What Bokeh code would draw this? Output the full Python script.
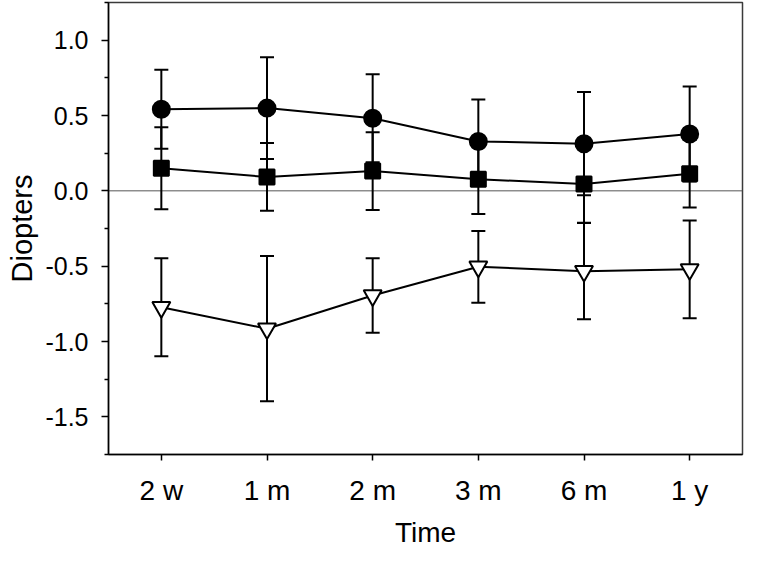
from bokeh.plotting import figure
from bokeh.models import (ColumnDataSource, Whisker, TeeHead, Span, FixedTicker,
                          PrintfTickFormatter, FactorRange, Range1d)
from bokeh.embed import file_html
from bokeh.resources import INLINE

# ---- data ----
times = ["2 w", "1 m", "2 m", "3 m", "6 m", "1 y"]

circle_mean = [0.542, 0.549, 0.482, 0.328, 0.313, 0.377]
circle_sd = [0.262, 0.338, 0.292, 0.278, 0.343, 0.315]

square_mean = [0.150, 0.092, 0.131, 0.077, 0.045, 0.114]
square_sd = [0.272, 0.225, 0.258, 0.231, 0.257, 0.225]

tri_mean = [-0.773, -0.915, -0.695, -0.504, -0.533, -0.521]
tri_sd = [0.325, 0.482, 0.247, 0.238, 0.320, 0.324]

y_ticks = [-1.5, -1.0, -0.5, 0.0, 0.5, 1.0]
y_minor = [-1.75, -1.25, -0.75, -0.25, 0.25, 0.75, 1.25]

FONT = "Liberation Sans"

p = figure(width=744, height=550, x_range=FactorRange(factors=times),
           y_range=Range1d(-1.75, 1.25), output_backend="svg",
           toolbar_location=None, min_border_left=108, min_border_right=2,
           min_border_top=2, min_border_bottom=92)

p.xgrid.visible = False
p.ygrid.visible = False
p.outline_line_color = "#3a3a3a"
p.outline_line_width = 1.5
p.background_fill_color = "white"
p.border_fill_color = "white"

zero = Span(location=0, dimension="width", line_color="#555555", line_width=1,
            level="underlay")
p.add_layout(zero)


def series(mean, sd, marker, size, fill):
    src = ColumnDataSource(dict(
        x=times, y=mean,
        upper=[m + s for m, s in zip(mean, sd)],
        lower=[m - s for m, s in zip(mean, sd)]))
    w = Whisker(base="x", upper="upper", lower="lower", source=src,
                dimension="height", line_color="black", line_width=2,
                level="underlay",
                upper_head=TeeHead(size=14, line_width=2, line_color="black"),
                lower_head=TeeHead(size=14, line_width=2, line_color="black"))
    p.add_layout(w)
    p.line("x", "y", source=src, line_color="black", line_width=2)
    p.scatter("x", "y", source=src, marker=marker, size=size,
              fill_color=fill, line_color="black", line_width=2)


series(circle_mean, circle_sd, "circle", 17, "black")
series(square_mean, square_sd, "square", 15, "black")
series(tri_mean, tri_sd, "inverted_triangle", 18, "white")

# axes
p.yaxis.ticker = FixedTicker(ticks=y_ticks, minor_ticks=y_minor)
p.yaxis.formatter = PrintfTickFormatter(format="%.1f")
p.yaxis.axis_label = "Diopters"
p.xaxis.axis_label = "Time"

for ax in (p.xaxis[0], p.yaxis[0]):
    ax.axis_line_color = "black"
    ax.axis_line_width = 1.5
    ax.major_tick_line_color = "black"
    ax.major_tick_line_width = 1.5
    ax.minor_tick_line_color = "black"
    ax.minor_tick_line_width = 1.5
    ax.major_tick_in = 0
    ax.minor_tick_in = 0
    ax.major_label_text_font = FONT
    ax.major_label_text_color = "black"
    ax.axis_label_text_font = FONT
    ax.axis_label_text_font_style = "normal"
    ax.axis_label_text_color = "black"

p.yaxis.major_label_text_font_size = "25px"
p.xaxis.major_label_text_font_size = "28px"
p.yaxis.axis_label_text_font_size = "29px"
p.xaxis.axis_label_text_font_size = "28px"
p.yaxis.major_tick_out = 7
p.yaxis.minor_tick_out = 4
p.yaxis.major_label_standoff = 13
p.yaxis.axis_label_standoff = 4
p.xaxis.major_tick_out = 6
p.xaxis.minor_tick_out = 0
p.xaxis.major_label_standoff = 14
p.xaxis.axis_label_standoff = 8

open("out.html", "w").write(file_html(p, INLINE))
